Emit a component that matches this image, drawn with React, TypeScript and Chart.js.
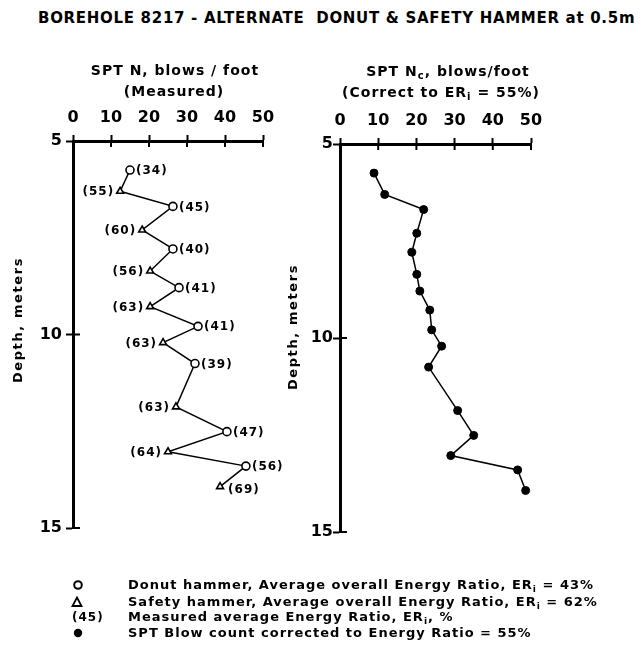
import React, { useEffect, useRef } from 'react';
import { Chart, registerables } from 'chart.js';

Chart.register(...registerables);

// ---------- data ----------
const depthM = [5.75, 6.3, 6.69, 7.3, 7.79, 8.36, 8.79, 9.28, 9.79, 10.21, 10.75, 11.87, 12.51, 13.03, 13.4, 13.93];
const hammerType = ['donut', 'safety', 'donut', 'safety', 'donut', 'safety', 'donut', 'safety', 'donut', 'safety', 'donut', 'safety', 'donut', 'safety', 'donut', 'safety'];
const measuredN = [15, 12.4, 26.3, 18.2, 26.3, 20.3, 27.9, 20.3, 32.9, 23.7, 32.1, 27.1, 40.5, 25, 45.5, 38.7];
const energyRatioPct = [34, 55, 45, 60, 40, 56, 41, 63, 41, 63, 39, 63, 47, 64, 56, 69];
const correctedNc = [8.9, 11.7, 21.9, 20.1, 18.8, 20.1, 20.9, 23.5, 24.0, 26.6, 23.2, 30.8, 35.0, 29.0, 46.5, 48.6];
const blowTicks = [0, 10, 20, 30, 40, 50];
const depthTicks = [5, 10, 15];

const FONT = '"DejaVu Sans", sans-serif';

type Seg = { t: string; sub?: boolean };

function drawRich(ctx: CanvasRenderingContext2D, segs: Seg[], cx: number, cy: number, size: number, spacing: number) {
  const fontFor = (s: Seg) => `bold ${s.sub ? Math.round(size * 0.72) : size}px ${FONT}`;
  (ctx as any).letterSpacing = spacing + 'px';
  let total = 0;
  const widths = segs.map((s) => {
    ctx.font = fontFor(s);
    const w = ctx.measureText(s.t).width;
    total += w;
    return w;
  });
  let x = cx - total / 2;
  ctx.textAlign = 'left';
  ctx.textBaseline = 'middle';
  segs.forEach((s, i) => {
    ctx.font = fontFor(s);
    ctx.fillText(s.t, x, cy + (s.sub ? size * 0.32 : 0));
    x += widths[i];
  });
  (ctx as any).letterSpacing = '0px';
}

const decorPlugin = {
  id: 'decor',
  afterDatasetsDraw(chart: any, _a: any, opts: any) {
    if (!opts.pointLabels) return;
    const ctx = chart.ctx as CanvasRenderingContext2D;
    const meta = chart.getDatasetMeta(0);
    ctx.save();
    ctx.fillStyle = '#000';
    ctx.font = `bold 12px ${FONT}`;
    (ctx as any).letterSpacing = '1px';
    ctx.textBaseline = 'middle';
    const n = meta.data.length;
    meta.data.forEach((pt: any, i: number) => {
      const txt = `(${energyRatioPct[i]})`;
      if (hammerType[i] === 'donut') {
        ctx.textAlign = 'left';
        ctx.fillText(txt, pt.x + 6, pt.y + 1);
      } else if (i === n - 1) {
        ctx.textAlign = 'left';
        ctx.fillText(txt, pt.x + 8, pt.y + 3);
      } else {
        ctx.textAlign = 'right';
        ctx.fillText(txt, pt.x - 6, pt.y + 1);
      }
    });
    (ctx as any).letterSpacing = '0px';
    ctx.restore();
  },
  afterDraw(chart: any, _a: any, opts: any) {
    const ctx = chart.ctx as CanvasRenderingContext2D;
    const { left, top } = chart.chartArea;
    const xs = chart.scales.x;
    const ys = chart.scales.y;
    ctx.save();
    ctx.strokeStyle = '#000';
    ctx.lineWidth = 2;
    blowTicks.forEach((v) => {
      if (v === xs.min) return;
      const px = xs.getPixelForValue(v);
      ctx.beginPath();
      ctx.moveTo(px, top);
      ctx.lineTo(px, top + 6);
      ctx.stroke();
    });
    depthTicks.forEach((v) => {
      if (v === ys.min) return;
      const py = ys.getPixelForValue(v);
      ctx.beginPath();
      ctx.moveTo(left, py);
      ctx.lineTo(left + 7, py);
      ctx.stroke();
    });
    ctx.fillStyle = '#000';
    (opts.titleLines as { segs: Seg[]; x: number; y: number }[]).forEach((l) => drawRich(ctx, l.segs, l.x, l.y, 14, 1));
    ctx.translate(opts.depthX, opts.depthY);
    ctx.rotate(-Math.PI / 2);
    drawRich(ctx, [{ t: 'Depth, meters' }], 0, 0, 13, 1.6);
    ctx.restore();
  },
};

function scaleOpts(boxW: number, boxH: number, yPad: number) {
  const tickFont = { family: FONT, size: 16, weight: 'bold' as const };
  return {
    x: {
      type: 'linear' as const,
      position: 'top' as const,
      min: 0,
      max: 50,
      afterBuildTicks: (s: any) => {
        s.ticks = blowTicks.map((v) => ({ value: v }));
      },
      afterFit: (s: any) => {
        s.height = boxH;
      },
      ticks: { font: tickFont, color: '#000', padding: 8, maxRotation: 0, autoSkip: false },
      grid: { display: true, drawOnChartArea: false, drawTicks: true, tickLength: 6, tickWidth: 2, tickColor: '#000', color: '#000' },
      border: { display: true, color: '#000', width: 3 },
    },
    y: {
      type: 'linear' as const,
      position: 'left' as const,
      reverse: true,
      min: 5,
      max: 15,
      afterBuildTicks: (s: any) => {
        s.ticks = depthTicks.map((v) => ({ value: v }));
      },
      afterFit: (s: any) => {
        s.width = boxW;
      },
      ticks: { font: tickFont, color: '#000', padding: yPad, autoSkip: false },
      grid: { display: true, drawOnChartArea: false, drawTicks: true, tickLength: 7, tickWidth: 2, tickColor: '#000', color: '#000' },
      border: { display: true, color: '#000', width: 3 },
    },
  };
}

function SubI() {
  return <sub style={{ fontSize: '0.7em', verticalAlign: '-0.3em' }}>i</sub>;
}

export default function App() {
  const leftRef = useRef<HTMLCanvasElement>(null);
  const rightRef = useRef<HTMLCanvasElement>(null);

  useEffect(() => {
    const left = new Chart(leftRef.current!, {
      type: 'scatter',
      data: {
        datasets: [
          {
            data: measuredN.map((n, i) => ({ x: n, y: depthM[i] })),
            showLine: true,
            borderColor: '#000',
            borderWidth: 1.5,
            pointStyle: hammerType.map((h) => (h === 'donut' ? 'circle' : 'triangle')) as any,
            pointRadius: 4,
            pointBackgroundColor: '#fff',
            pointBorderColor: '#000',
            pointBorderWidth: 1.6,
          },
        ],
      },
      options: {
        animation: false,
        responsive: false,
        devicePixelRatio: 1,
        layout: { padding: { left: 0, top: 0, right: 640 - 263, bottom: 671 - 528 } },
        scales: scaleOpts(73, 141, 4) as any,
        plugins: {
          legend: { display: false },
          tooltip: { enabled: false },
          decor: {
            pointLabels: true,
            titleLines: [
              { segs: [{ t: 'SPT N, blows / foot' }], x: 175, y: 71 },
              { segs: [{ t: '(Measured)' }], x: 174, y: 92 },
            ],
            depthX: 19,
            depthY: 320,
          },
        } as any,
      },
      plugins: [decorPlugin],
    });

    const right = new Chart(rightRef.current!, {
      type: 'scatter',
      data: {
        datasets: [
          {
            data: correctedNc.map((n, i) => ({ x: n, y: depthM[i] })),
            showLine: true,
            borderColor: '#000',
            borderWidth: 1.5,
            pointStyle: 'circle',
            pointRadius: 4,
            pointBackgroundColor: '#000',
            pointBorderColor: '#000',
            pointBorderWidth: 1,
          },
        ],
      },
      options: {
        animation: false,
        responsive: false,
        devicePixelRatio: 1,
        layout: { padding: { left: 0, top: 0, right: 640 - 531, bottom: 671 - 532 } },
        scales: scaleOpts(340, 144, 0) as any,
        plugins: {
          legend: { display: false },
          tooltip: { enabled: false },
          decor: {
            pointLabels: false,
            titleLines: [
              { segs: [{ t: 'SPT N' }, { t: 'c', sub: true }, { t: ', blows/foot' }], x: 448, y: 72 },
              { segs: [{ t: '(Correct to ER' }, { t: 'i', sub: true }, { t: ' = 55%)' }], x: 441, y: 93 },
            ],
            depthX: 294,
            depthY: 327,
          },
        } as any,
      },
      plugins: [decorPlugin],
    });

    return () => {
      left.destroy();
      right.destroy();
    };
  }, []);

  const legendText: React.CSSProperties = {
    position: 'absolute',
    left: 128,
    fontSize: 13,
    fontWeight: 'bold',
    letterSpacing: '1px',
    lineHeight: '16px',
    whiteSpace: 'pre',
  };

  return (
    <div style={{ position: 'absolute', left: 0, top: 0, width: 640, height: 671, background: '#fff', fontFamily: FONT, color: '#000' }}>
      <div
        style={{
          position: 'absolute',
          left: 38,
          top: 8,
          fontSize: 15,
          fontWeight: 'bold',
          lineHeight: '20px',
          letterSpacing: '0.7px',
          whiteSpace: 'pre',
        }}
      >
        {'BOREHOLE 8217 - ALTERNATE  DONUT & SAFETY HAMMER at 0.5m'}
      </div>
      <canvas ref={leftRef} width={640} height={671} style={{ position: 'absolute', left: 0, top: 0 }} />
      <canvas ref={rightRef} width={640} height={671} style={{ position: 'absolute', left: 0, top: 0 }} />

      {/* legend */}
      <svg width={12} height={12} style={{ position: 'absolute', left: 72, top: 579 }}>
        <circle cx={6} cy={6} r={3.8} fill="#fff" stroke="#000" strokeWidth={2} />
      </svg>
      <div style={{ ...legendText, top: 577 }}>
        Donut hammer, Average overall Energy Ratio, ER<SubI /> = 43%
      </div>

      <svg width={12} height={12} style={{ position: 'absolute', left: 71, top: 596 }}>
        <polygon points="6,1.5 10.5,10 1.5,10" fill="#fff" stroke="#000" strokeWidth={1.8} />
      </svg>
      <div style={{ ...legendText, top: 594 }}>
        Safety hammer, Average overall Energy Ratio, ER<SubI /> = 62%
      </div>

      <div style={{ ...legendText, left: 72, top: 609, fontSize: 12 }}>(45)</div>
      <div style={{ ...legendText, top: 609 }}>
        Measured average Energy Ratio, ER<SubI />, %
      </div>

      <svg width={12} height={12} style={{ position: 'absolute', left: 72, top: 627 }}>
        <circle cx={6} cy={6} r={4.2} fill="#000" />
      </svg>
      <div style={{ ...legendText, top: 625 }}>
        SPT Blow count corrected to Energy Ratio = 55%
      </div>
    </div>
  );
}
